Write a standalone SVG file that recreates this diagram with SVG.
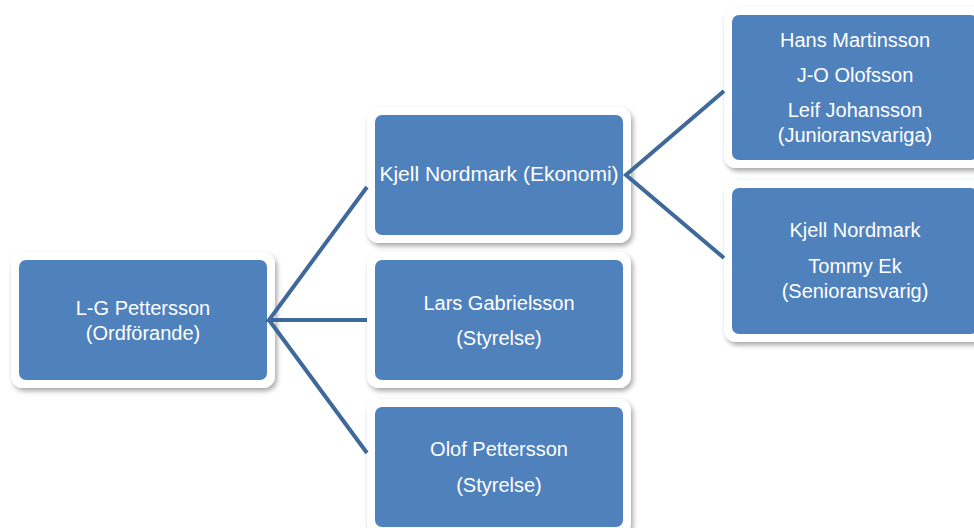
<svg xmlns="http://www.w3.org/2000/svg" width="974" height="528" viewBox="0 0 974 528">
<defs>
<filter id="sh" x="-10%" y="-10%" width="125%" height="130%">
<feDropShadow dx="2" dy="3" stdDeviation="2.5" flood-color="#000" flood-opacity="0.35"/>
</filter>
<style>
.outer{fill:#fff;filter:url(#sh);}
.inner{fill:#4F81BD;}
.lbl{fill:#fff;font-family:"Liberation Sans",Arial,sans-serif;font-size:20px;text-anchor:middle;}
.conn{stroke:#40699B;stroke-width:4;fill:none;}
</style>
</defs>
<rect width="974" height="528" fill="#fff"/>
<g id="root">
<rect class="outer" x="11" y="252" width="264" height="136" rx="12"/>
<rect class="inner" x="19" y="260" width="248" height="120" rx="7"/>
<text class="lbl" x="143" y="315">L-G Pettersson</text>
<text class="lbl" x="143" y="340">(Ordförande)</text>
</g>
<g id="ekonomi">
<rect class="outer" x="367" y="107" width="264" height="136" rx="12"/>
<rect class="inner" x="375" y="115" width="248" height="120" rx="7"/>
<text class="lbl" x="499" y="181" style="font-size:21px">Kjell Nordmark (Ekonomi)</text>
</g>
<g id="lars">
<rect class="outer" x="367" y="252" width="264" height="136" rx="12"/>
<rect class="inner" x="375" y="260" width="248" height="120" rx="7"/>
<text class="lbl" x="499" y="310">Lars Gabrielsson</text>
<text class="lbl" x="499" y="345">(Styrelse)</text>
</g>
<g id="olof">
<rect class="outer" x="367" y="399" width="264" height="136" rx="12"/>
<rect class="inner" x="375" y="407" width="248" height="120" rx="7"/>
<text class="lbl" x="499" y="456">Olof Pettersson</text>
<text class="lbl" x="499" y="492">(Styrelse)</text>
</g>
<g id="junior">
<rect class="outer" x="724" y="7" width="262" height="161" rx="12"/>
<rect class="inner" x="732" y="15" width="246" height="145" rx="7"/>
<text class="lbl" x="855" y="47">Hans Martinsson</text>
<text class="lbl" x="855" y="82">J-O Olofsson</text>
<text class="lbl" x="855" y="117">Leif Johansson</text>
<text class="lbl" x="855" y="142">(Junioransvariga)</text>
</g>
<g id="senior">
<rect class="outer" x="724" y="180" width="262" height="162" rx="12"/>
<rect class="inner" x="732" y="188" width="246" height="146" rx="7"/>
<text class="lbl" x="855" y="237">Kjell Nordmark</text>
<text class="lbl" x="855" y="273">Tommy Ek</text>
<text class="lbl" x="855" y="298">(Senioransvarig)</text>
</g>
<g id="connectors">
<path class="conn" d="M367,187 L269,320 L367,320 M269,320 L367,453"/>
<path class="conn" d="M724,91 L626,175 L724,258"/>
</g>
</svg>
